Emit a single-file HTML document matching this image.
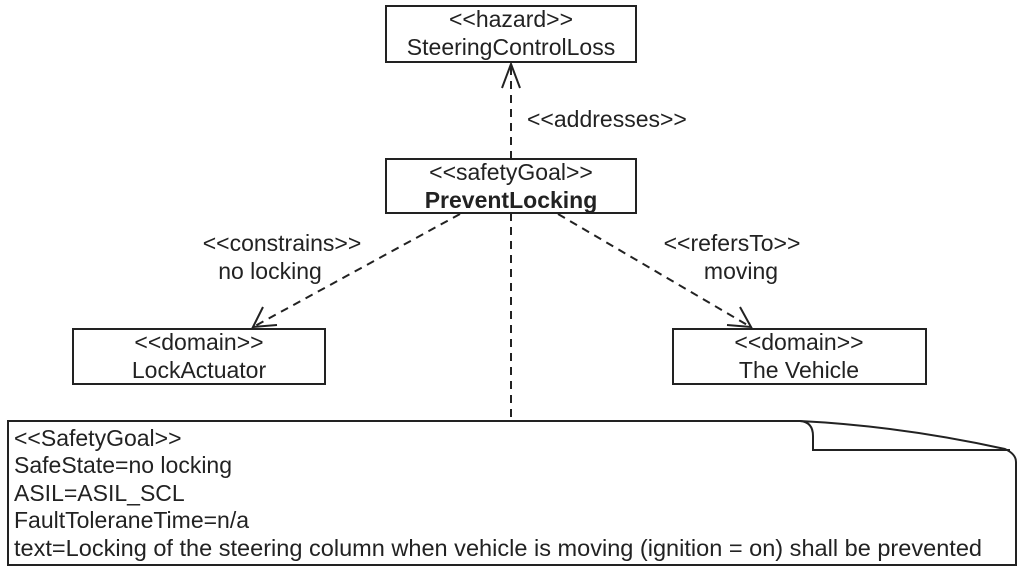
<!DOCTYPE html>
<html><head><meta charset="utf-8"><style>
html,body{margin:0;padding:0;background:#fff;}
svg{display:block;}
text{font-family:"Liberation Sans",Arial,sans-serif;font-size:23px;fill:#222;}
</style></head><body>
<svg width="1024" height="573" viewBox="0 0 1024 573" xmlns="http://www.w3.org/2000/svg">
<g fill="#fff" stroke="#222" stroke-width="2">
<rect x="386" y="6" width="250" height="56"/>
<rect x="386" y="159" width="250" height="54"/>
<rect x="73" y="329" width="252" height="55"/>
<rect x="673" y="329" width="253" height="55"/>
</g>
<g stroke="#222" stroke-width="2" fill="none" stroke-dasharray="8,6">
<line x1="511" y1="159" x2="511" y2="66"/>
<line x1="511" y1="213" x2="511" y2="421"/>
<line x1="460" y1="214" x2="255" y2="326"/>
<line x1="558" y1="214" x2="749" y2="326"/>
</g>
<g stroke="#222" stroke-width="2" fill="none">
<polyline points="502,88 511,64 520,88"/>
<polyline points="263,307 253,327 277,325"/>
<polyline points="727,325 751,327 740,307"/>
<path d="M8,565 L8,421 L800,421 Q900,426 1005,449 Q1016,454 1016,462 L1016,565 Z"/>
<path d="M800,421 Q813,422 813,436 L813,450 L1010,450"/>
</g>
<g text-anchor="middle">
<text x="511" y="27">&lt;&lt;hazard&gt;&gt;</text>
<text x="511" y="55">SteeringControlLoss</text>
<text x="511" y="180">&lt;&lt;safetyGoal&gt;&gt;</text>
<text x="511" y="208" font-weight="bold">PreventLocking</text>
<text x="199" y="350">&lt;&lt;domain&gt;&gt;</text>
<text x="199" y="378">LockActuator</text>
<text x="799" y="350">&lt;&lt;domain&gt;&gt;</text>
<text x="799" y="378">The Vehicle</text>
<text x="282" y="251">&lt;&lt;constrains&gt;&gt;</text>
<text x="270" y="279">no locking</text>
<text x="732" y="251">&lt;&lt;refersTo&gt;&gt;</text>
<text x="741" y="279">moving</text>
</g>
<text x="527" y="127">&lt;&lt;addresses&gt;&gt;</text>
<text x="14" y="446">&lt;&lt;SafetyGoal&gt;&gt;</text>
<text x="14" y="473">SafeState=no locking</text>
<text x="14" y="501">ASIL=ASIL_SCL</text>
<text x="14" y="528">FaultToleraneTime=n/a</text>
<text x="14" y="556" textLength="968" lengthAdjust="spacingAndGlyphs">text=Locking of the steering column when vehicle is moving (ignition = on) shall be prevented</text>
</svg>
</body></html>
